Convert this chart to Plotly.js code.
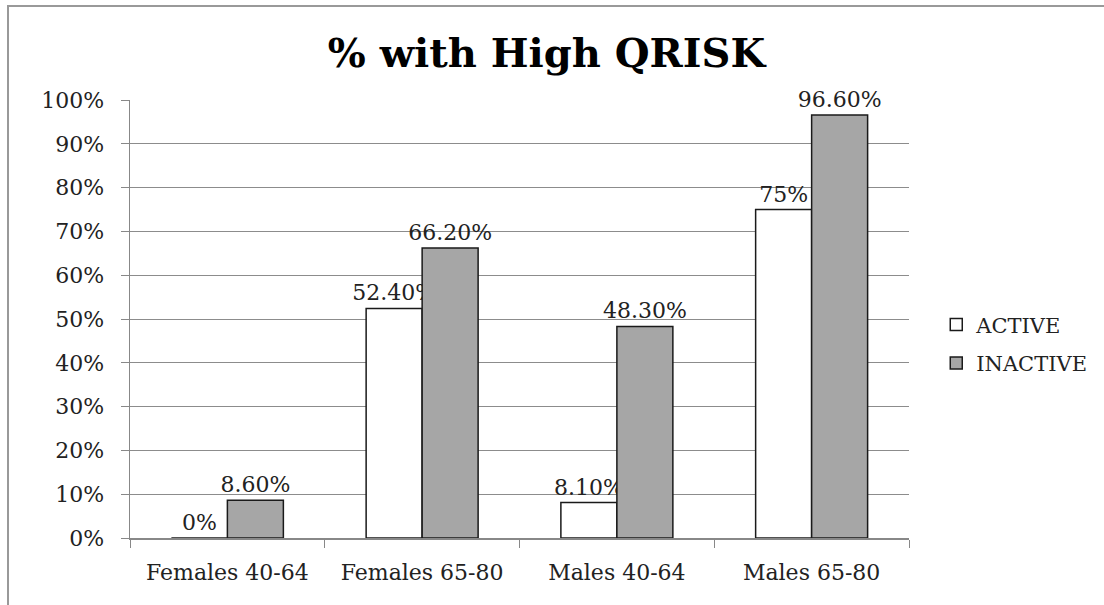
<!DOCTYPE html>
<html>
<head>
<meta charset="utf-8">
<script src="https://cdn.plot.ly/plotly-3.0.1.min.js"></script>
<style>html,body{margin:0;padding:0;background:#fff;}#chart{width:1104px;height:605px;}</style>
</head>
<body>
<div id="chart"></div>
<script>
const categories = ["Females 40-64", "Females 65-80", "Males 40-64", "Males 65-80"];
const activeValues = [0, 52.4, 8.1, 75];
const inactiveValues = [8.6, 66.2, 48.3, 96.6];
const activeLabels = ["0%", "52.40%", "8.10%", "75%"];
const inactiveLabels = ["8.60%", "66.20%", "48.30%", "96.60%"];
const yTickValues = [0, 10, 20, 30, 40, 50, 60, 70, 80, 90, 100];
const yTickLabels = ["0%", "10%", "20%", "30%", "40%", "50%", "60%", "70%", "80%", "90%", "100%"];

const fontFamily = "DejaVu Serif, serif";
const textFont = {family: fontFamily, size: 22, color: "#222"};

const traces = [
  {
    type: "bar", name: "ACTIVE", x: categories, y: activeValues, legendgroup: "a",
    text: activeLabels, textposition: "outside", textfont: textFont,
    constraintext: "none", cliponaxis: false,
    marker: {color: "#ffffff", line: {color: "#1a1a1a", width: 1.5}}
  },
  {
    type: "bar", name: "INACTIVE", x: categories, y: inactiveValues, legendgroup: "b",
    text: inactiveLabels, textposition: "outside", textfont: textFont,
    constraintext: "none", cliponaxis: false,
    marker: {color: "#a6a6a6", line: {color: "#1a1a1a", width: 1.5}}
  }
];

const layout = {
  width: 1104, height: 605,
  margin: {l: 130, r: 195, t: 100, b: 67},
  paper_bgcolor: "#ffffff", plot_bgcolor: "#ffffff",
  title: {text: "<b>% with High QRISK</b>", font: {family: fontFamily, size: 40, color: "#000"},
          x: 0.495, xanchor: "center", y: 0.912, yanchor: "middle"},
  barmode: "group", bargap: 0.425, bargroupgap: 0,
  showlegend: true,
  legend: {x: 1.035, y: 0.443, xanchor: "left", yanchor: "middle",
           font: {family: fontFamily, size: 21, color: "#222"}, tracegroupgap: 8,
           itemwidth: 30},
  xaxis: {
    type: "category", showline: true, linecolor: "#888", linewidth: 1.5,
    ticks: "outside", tickson: "boundaries", ticklen: 8, tickcolor: "#888",
    ticklabelstandoff: 14,
    tickfont: {family: fontFamily, size: 22, color: "#222"},
    showgrid: false, fixedrange: true
  },
  yaxis: {
    range: [0, 100], tickvals: yTickValues, ticktext: yTickLabels,
    showline: true, linecolor: "#888", linewidth: 1.5,
    ticks: "outside", ticklen: 8, tickcolor: "#888",
    ticklabelstandoff: 12,
    showgrid: true, gridcolor: "#8c8c8c", gridwidth: 1,
    zeroline: false,
    tickfont: {family: fontFamily, size: 22, color: "#222"}
  },
  shapes: [
    {type: "rect", xref: "paper", yref: "paper", x0: -0.1566, x1: 2, y0: -1, y1: 1.2146,
     line: {color: "#999", width: 2}, fillcolor: "rgba(0,0,0,0)", layer: "below"}
  ]
};

Plotly.newPlot("chart", traces, layout, {displayModeBar: false, staticPlot: true});
</script>
</body>
</html>
